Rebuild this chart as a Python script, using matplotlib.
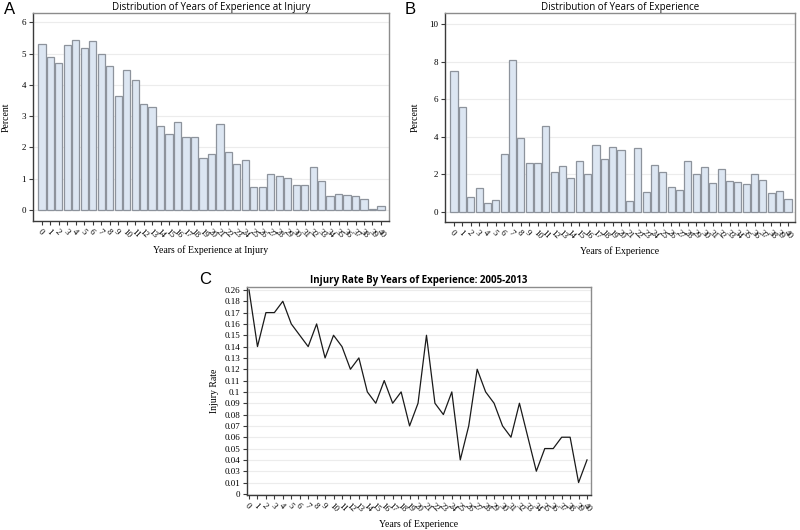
import matplotlib
matplotlib.use("Agg")
import matplotlib.pyplot as plt
import numpy as np

years = list(range(0, 41))
year_labels = [str(y) for y in years]

pct_at_injury = [5.30, 4.90, 4.70, 5.27, 5.45, 5.18, 5.40, 5.00, 4.62, 3.65,
                 4.48, 4.15, 3.40, 3.28, 2.68, 2.42, 2.80, 2.35, 2.32, 1.68,
                 1.78, 2.76, 1.86, 1.48, 1.60, 0.74, 0.74, 1.15, 1.08, 1.03,
                 0.80, 0.80, 1.37, 0.92, 0.44, 0.51, 0.47, 0.44, 0.36, 0.03,
                 0.13]

pct_experience = [7.50, 5.60, 0.80, 1.30, 0.48, 0.62, 3.07, 8.12, 3.92, 2.62,
                  2.62, 4.57, 2.13, 2.47, 1.83, 2.72, 2.03, 3.58, 2.85, 3.45,
                  3.32, 0.57, 3.40, 1.05, 2.48, 2.13, 1.32, 1.15, 2.70, 2.03,
                  2.38, 1.53, 2.27, 1.63, 1.60, 1.50, 2.03, 1.70, 1.00, 1.10,
                  0.68]

rate_levels = ["0", "0.01", "0.03", "0.04", "0.05", "0.06", "0.07", "0.08", "0.09",
               "0.1", "0.11", "0.12", "0.13", "0.14", "0.15", "0.16", "0.17", "0.18", "0.26"]
injury_rate = ["0.26", "0.14", "0.17", "0.17", "0.18", "0.16", "0.15", "0.14", "0.16", "0.13",
               "0.15", "0.14", "0.12", "0.13", "0.1", "0.09", "0.11", "0.09", "0.1", "0.07",
               "0.09", "0.15", "0.09", "0.08", "0.1", "0.04", "0.07", "0.12", "0.1", "0.09",
               "0.07", "0.06", "0.09", "0.06", "0.03", "0.05", "0.05", "0.06", "0.06", "0.01",
               "0.04"]

W, H = 800, 530
fig = plt.figure(figsize=(8, 5.3), dpi=100)
fig.patch.set_facecolor("white")

SERIF = ["Liberation Serif", "DejaVu Serif"]
SANS = ["Open Sans", "DejaVu Sans"]
LETTER = ["Liberation Sans", "DejaVu Sans"]


def ax_px(l, t, r, b):
    return fig.add_axes([l / W, 1 - b / H, (r - l) / W, (b - t) / H])


def style(ax):
    for s in ["left", "bottom"]:
        ax.spines[s].set_color("#3a3a3a")
        ax.spines[s].set_linewidth(1.0)
    for s in ["top", "right"]:
        ax.spines[s].set_color("#8c8c8c")
        ax.spines[s].set_linewidth(1.0)
    ax.tick_params(axis="both", direction="out", length=3, width=0.8, color="#3a3a3a",
                   labelsize=6.5, pad=2)
    ax.yaxis.grid(True, color="#ececec", linewidth=0.8)
    ax.set_axisbelow(True)
    ax.set_xticks(years)
    ax.set_xticklabels(year_labels, rotation=-45, ha="left", va="top",
                       rotation_mode="anchor", fontsize=6.5, family=SERIF)


bar_face = "#dce6f2"
bar_edge = "#8d939c"

# Panel A
axA = ax_px(33, 13, 389, 221)
axA.bar(years, pct_at_injury, width=0.85, color=bar_face, edgecolor=bar_edge, linewidth=0.9)
axA.set_xlim(-1.05, 40.95)
axA.set_ylim(-0.35, 6.3)
axA.set_yticks(range(0, 7))
style(axA)
axA.set_yticklabels([str(v) for v in range(0, 7)], family=SERIF, fontsize=6.5)
axA.set_title("Distribution of Years of Experience at Injury", fontsize=7, family=SANS, pad=1)
axA.set_xlabel("Years of Experience at Injury", family=SERIF, fontsize=7, labelpad=4)
axA.set_ylabel("Percent", family=SERIF, fontsize=7, labelpad=8)
fig.text(4 / W, 1 - 10 / H, "A", fontsize=12, family=LETTER, va="center")

# Panel B
axB = ax_px(445, 13, 795, 222)
axB.bar(years, pct_experience, width=0.85, color=bar_face, edgecolor=bar_edge, linewidth=0.9)
axB.set_xlim(-1.08, 40.84)
axB.set_ylim(-0.53, 10.6)
axB.set_yticks(range(0, 11, 2))
style(axB)
axB.set_yticklabels([str(v) for v in range(0, 11, 2)], family=SERIF, fontsize=6.5)
axB.set_title("Distribution of Years of Experience", fontsize=7, family=SANS, pad=1)
axB.set_xlabel("Years of Experience", family=SERIF, fontsize=7, labelpad=4)
axB.set_ylabel("Percent", family=SERIF, fontsize=7, labelpad=7)
fig.text(405 / W, 1 - 10 / H, "B", fontsize=12, family=LETTER, va="center")

# Panel C
axC = ax_px(247, 287, 591, 495)
yidx = [rate_levels.index(v) for v in injury_rate]
axC.plot(years, yidx, color="#1a1a1a", linewidth=0.9)
axC.set_xlim(-0.24, 40.47)
axC.set_ylim(-0.1, 18.26)
axC.set_yticks(range(len(rate_levels)))
style(axC)
axC.set_yticklabels(rate_levels, family=SERIF, fontsize=6.5)
axC.set_title("Injury Rate By Years of Experience: 2005-2013", fontsize=7, family=SANS,
              fontweight="bold", pad=3)
axC.set_xlabel("Years of Experience", family=SERIF, fontsize=7, labelpad=3.5)
axC.set_ylabel("Injury Rate", family=SERIF, fontsize=7, labelpad=4)
fig.text(199 / W, 1 - 280 / H, "C", fontsize=12, family=LETTER, va="center")

fig.savefig("out.png", dpi=100, facecolor="white")
